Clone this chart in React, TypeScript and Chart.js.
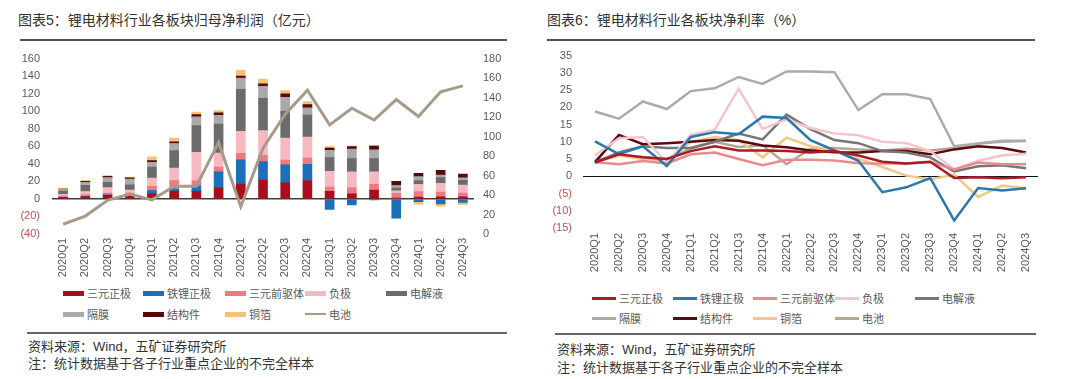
import React, { useEffect, useRef } from 'react';
import { Chart, registerables } from 'chart.js';

Chart.register(...registerables);

// ---------- data ----------
const categories = [
  '2020Q1', '2020Q2', '2020Q3', '2020Q4',
  '2021Q1', '2021Q2', '2021Q3', '2021Q4',
  '2022Q1', '2022Q2', '2022Q3', '2022Q4',
  '2023Q1', '2023Q2', '2023Q3', '2023Q4',
  '2024Q1', '2024Q2', '2024Q3',
];

const seriesNames = ['三元正极', '铁锂正极', '三元前驱体', '负极', '电解液', '隔膜', '结构件', '铜箔', '电池'];

// 图表5: 归母净利润（亿元）
const profitTernaryCathode = [1.5, 2.5, 4, 3.5, 5.8, 8.6, 8.6, 13, 17, 21.6, 18.4, 21, 8.6, 5.8, 10, 0.5, 2, 2.5, 2.5];
const profitLfpCathode = [0.3, 0.5, 0.8, 0.8, 3.6, 2.5, 6, 18, 27.7, 21, 20.5, 18.4, -12, -6.8, -1, -22, -3, -5.8, -4];
const profitPrecursor = [1.5, 2, 2, 2.5, 5, 9.7, 6, 5.4, 7.2, 7.2, 5.4, 7.2, 5, 7.2, 6.5, 5.8, 6.5, 5.4, 4.3];
const profitAnode = [2, 3.5, 6, 3.2, 9.4, 14.4, 32.4, 16, 25.2, 28, 25, 24, 18, 18, 14.4, 2.9, 8, 10, 9];
const profitElectrolyte = [3.5, 7, 6, 6, 12.6, 20, 30.6, 33, 48, 36.8, 30.6, 25, 15.5, 15, 15, 3.2, 4.5, 6.5, 5.4];
const profitSeparator = [2, 3.5, 5.5, 6.5, 5.4, 8, 10, 10, 12.6, 13.7, 16, 8.3, 8.3, 10.8, 10, 2.9, 4.5, 2.9, 2.9];
const profitStructural = [0.5, 1, 1.5, 1.5, 1.8, 1.8, 2.5, 2.9, 2.5, 2.9, 4, 3.6, 2.5, 2.9, 4.3, 4.7, 3.6, 5.4, 4.3];
const profitCopperFoil = [0.7, 1, 0.9, 1, 4.3, 4.3, 2.9, 2.5, 6.5, 5.4, 3.6, 3.6, 1.8, 0.5, 0.5, 0, -3, -2.5, -2.5];
const profitBattery = [10, 18.4, 34.5, 41, 35, 49, 49, 94, 28, 88, 123, 147.5, 112, 129, 117, 138, 120.6, 146, 152];

// 图表6: 净利率（%）
const marginTernaryCathode = [4, 6.4, 5.5, 5, 7.3, 8.7, 7.5, 7.5, 7.3, 6.9, 7.3, 6, 4.2, 3.7, 4.2, -0.5, -0.3, -0.6, -0.3];
const marginLfpCathode = [10.1, 6.4, 8.7, 3, 11.4, 12.8, 12.2, 17.3, 16.9, 10.5, 7.5, 4.5, -4.6, -3.2, -0.5, -12.8, -3.4, -4.1, -3.5];
const marginPrecursor = [4.1, 3.5, 4.4, 3.7, 6.4, 6.9, 5, 3.2, 4.8, 4.8, 4.6, 3.8, 3.7, 3.7, 4.1, 2, 4, 3.5, 3.5];
const marginAnode = [6, 11, 11.4, 4, 12, 13.5, 25.4, 13.7, 16.5, 14, 12.4, 11.9, 10, 9.6, 7.3, 2, 4.5, 6, 6.5];
const marginElectrolyte = [4, 6.9, 8.7, 8.2, 8.2, 10, 12.4, 10.7, 17.9, 13.7, 10.5, 9.6, 7.3, 6.9, 5.5, 1.4, 2.9, 3.2, 2.3];
const marginSeparator = [18.8, 16.7, 21.7, 19.5, 24.7, 25.5, 28.8, 26.8, 30.4, 30.4, 30.2, 19.2, 23.8, 23.8, 22.4, 8.7, 9.5, 10, 10.2];
const marginStructural = [4.1, 12, 9.3, 9.6, 10, 10.5, 10.3, 8.9, 8.4, 7.5, 7, 6.9, 7.3, 7.3, 6.4, 7.8, 8.7, 8.2, 6.9];
const marginCopperFoil = [4.1, 6, 5, 4.6, 10, 11.4, 10.5, 5.5, 11.2, 8.7, 7.5, 5, 2.7, 0.2, -0.9, 0.5, -6, -2.7, -3.5];
const marginBattery = [4.5, 6, 5.5, 5, 8, 10, 8.5, 9, 3.5, 8, 8.2, 7.8, 7.5, 8, 7.5, 8.2, 9.5, 10.3, 10.3];

const leftTicks = { min: -40, max: 160, step: 20 };
const rightTicks = { min: 0, max: 180, step: 20 };
const marginTicks = { min: -15, max: 35, step: 5 };

// ---------- styles ----------
const barColors = ['#ab0d1c', '#1d6fb8', '#ec7b80', '#f7b8c1', '#6b6b6b', '#a9a9a9', '#560a0c', '#f4c178'];
const batteryBarChartColor = '#a89a88';
const lineColors = ['#a81c28', '#2a78ad', '#ea8a8d', '#f6c4cb', '#767676', '#ababab', '#5a0a10', '#f1c985', '#b7a791'];

const FONT = "'Liberation Sans', 'Noto Sans CJK SC', sans-serif";
const TICK_COLOR = '#595959';
const NEG_COLOR = '#c0504d';

const fmt = (v: number) => (v < 0 ? `(${-v})` : `${v}`);

function ProfitChart() {
  const ref = useRef<HTMLCanvasElement | null>(null);
  useEffect(() => {
    if (!ref.current) return;
    const profitSeries = [
      profitTernaryCathode, profitLfpCathode, profitPrecursor, profitAnode,
      profitElectrolyte, profitSeparator, profitStructural, profitCopperFoil,
    ];
    const chart = new Chart(ref.current, {
      type: 'bar',
      data: {
        labels: categories,
        datasets: [
          ...profitSeries.map((d, i) => ({
            type: 'bar' as const,
            label: seriesNames[i],
            data: d,
            backgroundColor: barColors[i],
            stack: 's',
            yAxisID: 'y',
            order: 1,
            barThickness: 9,
          })),
          {
            type: 'line' as const,
            label: seriesNames[8],
            data: profitBattery,
            borderColor: batteryBarChartColor,
            backgroundColor: batteryBarChartColor,
            borderWidth: 3,
            pointRadius: 0,
            tension: 0,
            yAxisID: 'y1',
            order: 0,
          },
        ] as any,
      },
      options: {
        responsive: false,
        animation: false,
        layout: { padding: { top: 8, left: 0, right: 0, bottom: 0 } },
        plugins: { legend: { display: false }, tooltip: { enabled: false } },
        scales: {
          x: {
            stacked: true,
            grid: { display: false, drawTicks: false },
            border: { display: false },
            ticks: {
              color: TICK_COLOR, font: { family: FONT, size: 11 },
              minRotation: 90, maxRotation: 90, padding: 4, autoSkip: false,
            },
            afterFit: (s: any) => { s.height = 46; },
          },
          y: {
            stacked: true,
            position: 'left',
            min: leftTicks.min, max: leftTicks.max,
            ticks: {
              stepSize: leftTicks.step,
              callback: (v: any) => fmt(Number(v)),
              color: (c: any) => (c.tick && c.tick.value < 0 ? NEG_COLOR : TICK_COLOR),
              font: { family: FONT, size: 11 },
              padding: 12,
            },
            grid: {
              color: (c: any) => (c.tick && c.tick.value === 0 ? '#3c3c3c' : 'rgba(0,0,0,0)'),
              lineWidth: 1.5,
              drawTicks: false,
            },
            border: { display: false },
            afterFit: (s: any) => { s.width = 52; },
          },
          y1: {
            position: 'right',
            min: rightTicks.min, max: rightTicks.max,
            ticks: {
              stepSize: rightTicks.step,
              color: TICK_COLOR,
              font: { family: FONT, size: 11 },
              padding: 9,
            },
            grid: { display: false, drawTicks: false },
            border: { display: false },
            afterFit: (s: any) => { s.width = 66; },
          },
        },
      } as any,
    });
    return () => chart.destroy();
  }, []);
  return <canvas ref={ref} width={540} height={240} style={{ position: 'absolute', left: 0, top: 40 }} />;
}

function MarginChart() {
  const ref = useRef<HTMLCanvasElement | null>(null);
  useEffect(() => {
    if (!ref.current) return;
    const marginSeries = [
      marginTernaryCathode, marginLfpCathode, marginPrecursor, marginAnode,
      marginElectrolyte, marginSeparator, marginStructural, marginCopperFoil, marginBattery,
    ];
    const chart = new Chart(ref.current, {
      type: 'line',
      data: {
        labels: categories,
        datasets: marginSeries.map((d, i) => ({
          label: seriesNames[i],
          data: d,
          borderColor: lineColors[i],
          backgroundColor: lineColors[i],
          borderWidth: 2.5,
          pointRadius: 0,
          tension: 0,
        })),
      },
      options: {
        responsive: false,
        animation: false,
        layout: { padding: { top: 8, left: 0, right: 42, bottom: 0 } },
        plugins: { legend: { display: false }, tooltip: { enabled: false } },
        scales: {
          x: {
            offset: true,
            grid: { display: false, drawTicks: false },
            border: { display: false },
            ticks: {
              color: TICK_COLOR, font: { family: FONT, size: 11 },
              minRotation: 90, maxRotation: 90, padding: 5, autoSkip: false,
            },
            afterFit: (s: any) => { s.height = 52; },
          },
          y: {
            min: marginTicks.min, max: marginTicks.max,
            ticks: {
              stepSize: marginTicks.step,
              callback: (v: any) => fmt(Number(v)),
              color: (c: any) => (c.tick && c.tick.value < 0 ? NEG_COLOR : TICK_COLOR),
              font: { family: FONT, size: 11 },
              padding: 11,
            },
            grid: {
              color: (c: any) => (c.tick && c.tick.value === 0 ? '#111111' : 'rgba(0,0,0,0)'),
              lineWidth: 1,
              drawTicks: false,
            },
            border: { display: false },
            afterFit: (s: any) => { s.width = 43; },
          },
        },
      } as any,
    });
    return () => chart.destroy();
  }, []);
  return <canvas ref={ref} width={540} height={242} style={{ position: 'absolute', left: 540, top: 38 }} />;
}

type LegendItem = { name: string; color: string; kind: 'bar' | 'line' };

function Legend({ items, xs, rows, swatchW, swatchH }: { items: LegendItem[]; xs: number[]; rows: number[]; swatchW: number; swatchH: number }) {
  return (
    <>
      {items.map((it, i) => {
        const col = i % 5;
        const row = Math.floor(i / 5);
        const h = it.kind === 'line' ? 2 : swatchH;
        return (
          <div
            key={it.name}
            style={{
              position: 'absolute', left: xs[col], top: rows[row] - 8, height: 16,
              display: 'flex', alignItems: 'center', whiteSpace: 'nowrap',
              fontFamily: FONT, fontSize: 11, color: TICK_COLOR,
            }}
          >
            <span style={{ display: 'inline-block', width: swatchW, height: h, background: it.color, marginRight: 3 }} />
            <span>{it.name}</span>
          </div>
        );
      })}
    </>
  );
}

export default function App() {
  const leftLegend: LegendItem[] = seriesNames.map((n, i) => ({
    name: n,
    color: i < 8 ? barColors[i] : batteryBarChartColor,
    kind: i < 8 ? 'bar' : 'line',
  }));
  const rightLegend: LegendItem[] = seriesNames.map((n, i) => ({ name: n, color: lineColors[i], kind: 'bar' }));
  const titleStyle: React.CSSProperties = {
    position: 'absolute', top: 10, fontFamily: FONT, fontSize: 14, color: '#333', whiteSpace: 'nowrap', lineHeight: '20px',
  };
  const noteStyle: React.CSSProperties = {
    position: 'absolute', fontFamily: FONT, fontSize: 13, color: '#333', whiteSpace: 'nowrap', lineHeight: '16px',
  };
  return (
    <div style={{ position: 'absolute', left: 0, top: 0, width: 1080, height: 379, background: '#fff', overflow: 'hidden' }}>
      <div style={{ ...titleStyle, left: 18 }}>图表5：锂电材料行业各板块归母净利润（亿元）</div>
      <div style={{ position: 'absolute', left: 20, top: 39, width: 487, height: 2, background: '#555' }} />
      <div style={{ ...titleStyle, left: 547 }}>图表6：锂电材料行业各板块净利率（%）</div>
      <div style={{ position: 'absolute', left: 547, top: 39, width: 488, height: 2, background: '#555' }} />

      <ProfitChart />
      <MarginChart />

      <Legend items={leftLegend} xs={[63, 143, 225, 305, 386]} rows={[293, 314]} swatchW={21} swatchH={5} />
      <Legend items={rightLegend} xs={[592, 673, 753, 835, 915]} rows={[298, 318]} swatchW={24} swatchH={3} />

      <div style={{ position: 'absolute', left: 27, top: 332, width: 480, height: 2, background: '#666' }} />
      <div style={{ ...noteStyle, left: 28, top: 339 }}>资料来源：Wind，五矿证券研究所</div>
      <div style={{ ...noteStyle, left: 28, top: 356 }}>注：统计数据基于各子行业重点企业的不完全样本</div>

      <div style={{ position: 'absolute', left: 555, top: 333, width: 481, height: 2, background: '#666' }} />
      <div style={{ ...noteStyle, left: 557, top: 342 }}>资料来源：Wind，五矿证券研究所</div>
      <div style={{ ...noteStyle, left: 557, top: 360 }}>注：统计数据基于各子行业重点企业的不完全样本</div>
    </div>
  );
}
